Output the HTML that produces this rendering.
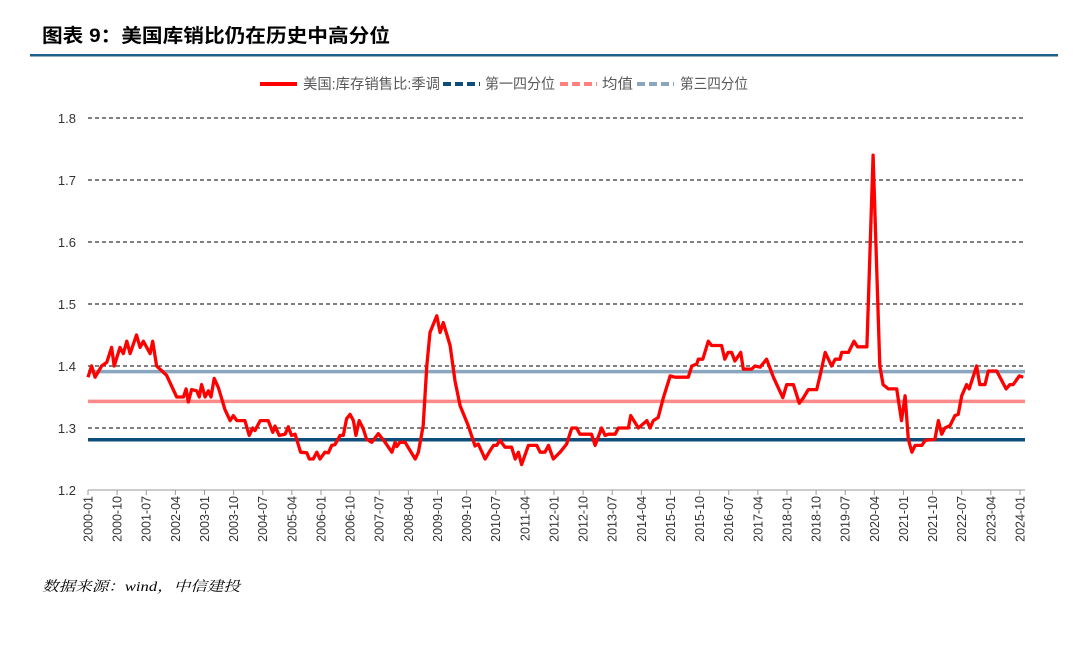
<!DOCTYPE html>
<html><head><meta charset="utf-8"><style>
body{margin:0;background:#fff;width:1080px;height:643px;overflow:hidden;font-family:"Liberation Sans","Noto Sans CJK SC",sans-serif}
</style></head><body>
<svg width="1080" height="643" xmlns="http://www.w3.org/2000/svg" id="chart">
<text x="42" y="42" font-size="19" font-weight="bold" fill="#000" textLength="348" lengthAdjust="spacingAndGlyphs" font-family="Liberation Sans, Noto Sans CJK SC, sans-serif">图表 9：美国库销比仍在历史中高分位</text>
<rect x="30" y="54" width="1028" height="2.5" fill="#1f5f8b"/>
<g font-size="14.5" fill="#595959" font-family="Liberation Sans, Noto Sans CJK SC, sans-serif">
<g><line x1="260" y1="84" x2="297" y2="84" stroke="#ff0000" stroke-width="4"/><text x="303" y="89" textLength="137" lengthAdjust="spacingAndGlyphs">美国:库存销售比:季调</text></g>
<g><line x1="443" y1="84" x2="480" y2="84" stroke="#0d4d7c" stroke-width="4" stroke-dasharray="8,4"/><text x="485" y="89" textLength="70" lengthAdjust="spacingAndGlyphs">第一四分位</text></g>
<g><line x1="560" y1="84" x2="597" y2="84" stroke="#ff8080" stroke-width="4" stroke-dasharray="8,4"/><text x="602" y="89" textLength="31" lengthAdjust="spacingAndGlyphs">均值</text></g>
<g><line x1="637" y1="84" x2="674" y2="84" stroke="#8aa6bf" stroke-width="4" stroke-dasharray="8,4"/><text x="680" y="89" textLength="68" lengthAdjust="spacingAndGlyphs">第三四分位</text></g>
</g>
<g id="plot"></g>
<text x="42" y="591" font-size="14" font-style="italic" fill="#000" textLength="198" lengthAdjust="spacingAndGlyphs" font-family="Liberation Serif, Noto Serif CJK SC, serif">数据来源：wind，中信建投</text>
</svg>
<script>
const months=[0,1.1,2.2,4.2,5.8,7.3,8.1,9.9,10.9,12,13,15,16.1,17.1,19.2,20,21.2,24.3,27.4,29.5,30.3,31,32,33.6,34.4,35.1,36.2,37.2,38,39,40.3,42.3,43.9,44.9,46,48.5,49.8,50.9,51.6,53.2,55.7,57.1,57.8,59.1,60.9,61.9,62.9,64,65.7,67.6,68.4,69.6,70.7,71.7,73.2,74.3,75.3,76.3,77.9,78.9,79.9,81,82,82.8,83.8,85.1,86.1,87.7,89.7,91.8,93.9,94.9,95.4,96.4,98,101.1,102.1,103.6,104.7,105.7,107.8,108.8,109.8,111.9,113.4,115,117.5,119.6,120.6,122.7,124.2,125.3,126.3,127.3,128.9,130.9,132,133,134,136.1,138.7,139.7,141.2,142.3,143.8,145.9,147.9,149.5,151,152,155.6,156.7,158.7,159.8,160.8,162.9,163.9,167,167.7,170.1,172.7,173.7,174.7,176.2,177.8,179.9,181.4,185.5,186.6,188.1,188.6,190,191.7,192.7,195.8,196.8,197.8,198.9,199.9,201.7,202.5,205.1,206.1,207.7,209.7,211.8,214.7,215.9,218,219.8,221.1,222.6,225.2,226.2,227.8,229.8,230.9,232.4,232.9,235,236.7,237.8,240.7,242.6,244.7,245.7,247.3,249.9,251.4,252.5,253.5,254.6,255.6,257.7,258.7,261.7,262.8,263.8,264.8,266.4,267.9,268.9,270,271.5,272.3,274.6,275.6,277.2,278.2,280.8,283.7,284.9,285.9,287.8,289];
const ratio=[1.382,1.40,1.382,1.40,1.406,1.43,1.40,1.43,1.42,1.44,1.42,1.45,1.43,1.44,1.42,1.44,1.40,1.385,1.35,1.35,1.363,1.342,1.362,1.36,1.35,1.37,1.35,1.36,1.35,1.38,1.365,1.33,1.312,1.32,1.312,1.312,1.288,1.30,1.296,1.312,1.312,1.293,1.303,1.288,1.29,1.302,1.288,1.29,1.261,1.26,1.25,1.25,1.261,1.25,1.261,1.26,1.272,1.273,1.288,1.288,1.315,1.322,1.312,1.288,1.312,1.298,1.282,1.277,1.291,1.277,1.261,1.277,1.27,1.277,1.277,1.25,1.261,1.304,1.40,1.454,1.481,1.454,1.47,1.433,1.376,1.336,1.304,1.271,1.274,1.25,1.263,1.272,1.272,1.28,1.269,1.269,1.25,1.261,1.241,1.272,1.272,1.261,1.261,1.272,1.25,1.261,1.274,1.30,1.30,1.29,1.29,1.272,1.30,1.288,1.29,1.29,1.30,1.30,1.32,1.30,1.312,1.30,1.312,1.317,1.349,1.384,1.382,1.382,1.40,1.403,1.411,1.411,1.44,1.433,1.433,1.411,1.422,1.422,1.408,1.422,1.395,1.395,1.40,1.398,1.411,1.382,1.349,1.37,1.37,1.34,1.349,1.362,1.362,1.384,1.422,1.40,1.411,1.411,1.422,1.422,1.44,1.431,1.431,1.74,1.40,1.37,1.363,1.363,1.312,1.352,1.282,1.261,1.272,1.272,1.28,1.282,1.312,1.29,1.30,1.304,1.32,1.322,1.352,1.37,1.363,1.40,1.37,1.37,1.392,1.392,1.363,1.37,1.37,1.384,1.382];
const refNames=['q1','mean','q3'];
const refValues=[1.281,1.343,1.391];
const refColors=['#0d4d7c','#ff8a8a','#8aa6bf'];
const yTicks=[1.2,1.3,1.4,1.5,1.6,1.7,1.8];
const xTickLabels=[];
for(let y=2000,m=1;y*12+m<=2024*12+1;m+=9){while(m>12){m-=12;y++;} if(y*12+m>2024*12+1)break; xTickLabels.push(y+'-'+String(m).padStart(2,'0'));}
const NS='http://www.w3.org/2000/svg';
const X0=88,PX=3.236,Y0=490,PY=620;
const sx=t=>X0+t*PX, sy=v=>Y0-(v-1.2)*PY;
const g=document.getElementById('plot');
function mk(tag,a){const e=document.createElementNS(NS,tag);for(const k in a)e.setAttribute(k,a[k]);g.appendChild(e);return e;}
yTicks.forEach(v=>{
 const l=mk('line',{x1:X0,x2:1025,y1:sy(v),y2:sy(v),stroke:v===1.2?'#999':'#000','stroke-width':1,'stroke-dasharray':v===1.2?'':'4,3'});
 
 
 const t=mk('text',{x:76,y:sy(v)+5,'text-anchor':'end','font-size':13,fill:'#333'});
 t.textContent=v.toFixed(1);
 
 
});
xTickLabels.forEach(s=>{
 const [yy,mm]=s.split('-').map(Number);
 const idx=(yy-2000)*12+mm-1, x=sx(idx);
 const tk=mk('line',{x1:x,x2:x,y1:490,y2:495,stroke:'#999'});
 
 
 const t=mk('text',{x:0,y:0,'text-anchor':'end','font-size':12.5,fill:'#333',transform:`translate(${x+4.5},496) rotate(-90)`});
 t.textContent=s;
 
 
});
refValues.forEach((v,i)=>{
 const l=mk('line',{x1:X0,x2:1025,y1:sy(v),y2:sy(v),stroke:refColors[i],'stroke-width':3.5});
 
 
});
const p=mk('polyline',{points:months.map((t,i)=>sx(t).toFixed(1)+','+sy(ratio[i]).toFixed(1)).join(' '),fill:'none',stroke:'#ff0000','stroke-width':3.3,'stroke-linejoin':'round'});


</script>
</body></html>
